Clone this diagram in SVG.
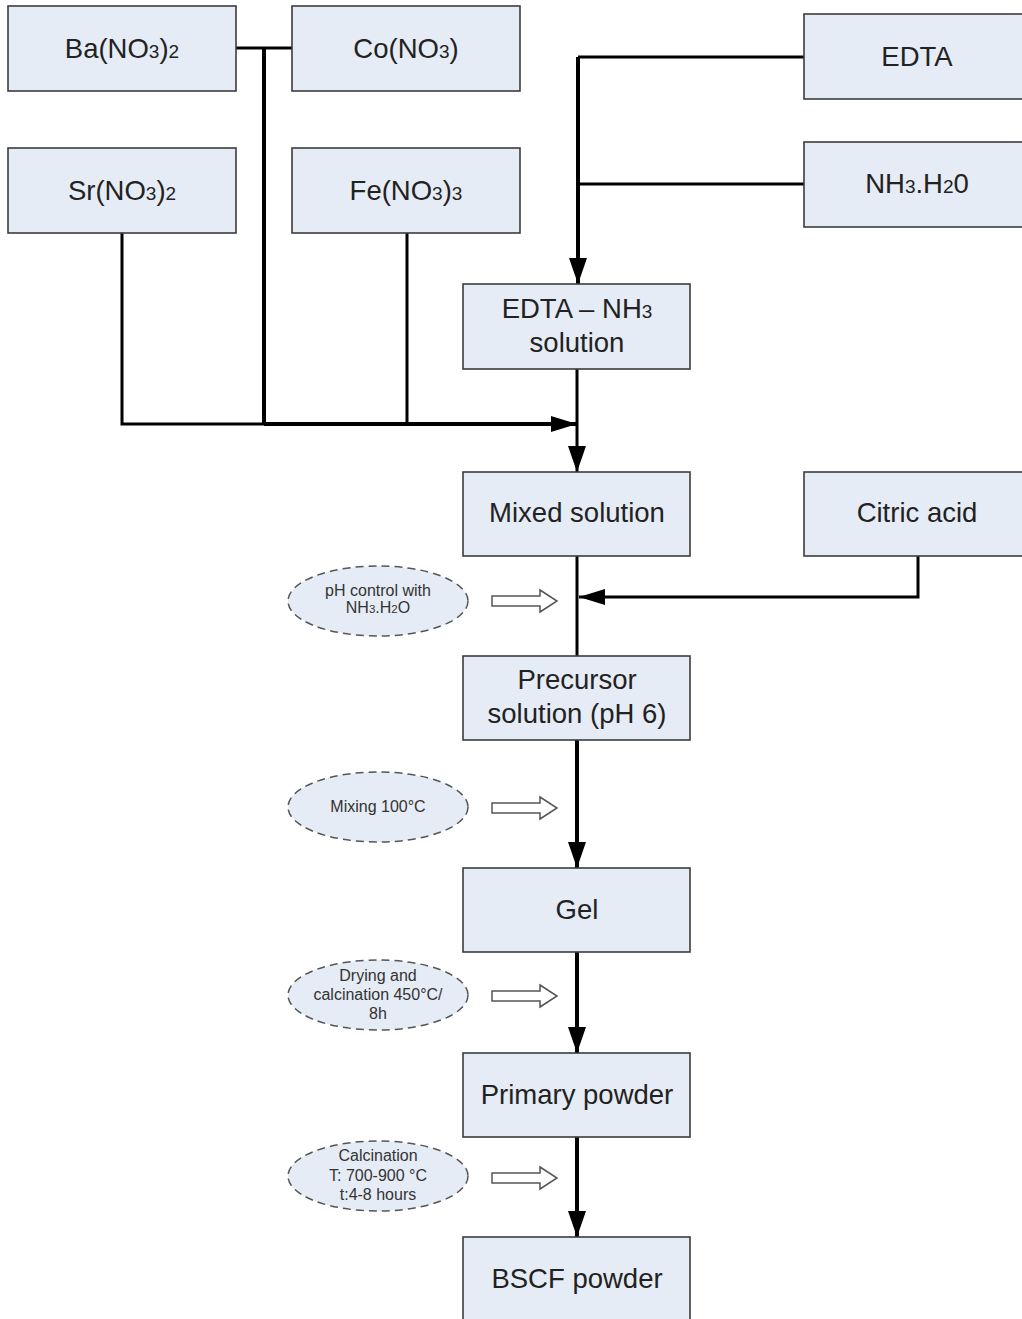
<svg xmlns="http://www.w3.org/2000/svg" width="1022" height="1319" viewBox="0 0 1022 1319">
<defs>
<marker id="ah" markerUnits="userSpaceOnUse" markerWidth="26" markerHeight="18" refX="26" refY="9" orient="auto">
<path d="M0,0 L26,9 L0,18 z" fill="#000"/>
</marker>
<marker id="ahs" markerUnits="userSpaceOnUse" markerWidth="26" markerHeight="16" refX="26" refY="8" orient="auto">
<path d="M0,0 L26,8 L0,16 z" fill="#000"/>
</marker>
<style>
.box{fill:#e6ecf5;stroke:#3c3c3c;stroke-width:1.6}
.t{font-family:"Liberation Sans",Arial,sans-serif;font-size:27.5px;fill:#222;text-anchor:middle}
.s{font-size:19px}
.ell{fill:#e6ecf5;stroke:#555;stroke-width:1.5;stroke-dasharray:8 5}
.et{font-family:"Liberation Sans",Arial,sans-serif;font-size:16px;fill:#333;text-anchor:middle}
.es{font-size:11.5px}
.c{fill:none;stroke:#000;stroke-width:3}
.ct{fill:none;stroke:#000;stroke-width:4}
.ha{fill:#fff;stroke:#555;stroke-width:1.5}
</style>
</defs>
<rect width="1022" height="1319" fill="#fff"/>

<g id="connectors">
<path class="c" d="M236,48 H292"/>
<path class="ct" d="M264,48 V424"/>
<path class="c" d="M122,233 V424 H264"/>
<path class="c" d="M407,233 V424"/>
<path class="ct" d="M264,424 H577" marker-end="url(#ahs)"/>
<path class="c" d="M804,57 H578"/>
<path class="ct" d="M578,57 V284" marker-end="url(#ah)"/>
<path class="c" d="M804,184 H578"/>
<path class="c" d="M577,369 V472" marker-end="url(#ah)"/>
<path class="c" d="M577,556 V656"/>
<path class="c" d="M918,556 V597 H579" marker-end="url(#ahs)"/>
<path class="ct" d="M577,740 V868" marker-end="url(#ah)"/>
<path class="ct" d="M577,952 V1053" marker-end="url(#ah)"/>
<path class="ct" d="M577,1137 V1237" marker-end="url(#ah)"/>
</g>

<g id="ba"><rect class="box" x="8" y="6" width="228" height="85"/><text class="t" x="122" y="58">Ba(NO<tspan class="s">3</tspan>)<tspan class="s">2</tspan></text></g>
<g id="co"><rect class="box" x="292" y="6" width="228" height="85"/><text class="t" x="406" y="58">Co(NO<tspan class="s">3</tspan>)</text></g>
<g id="sr"><rect class="box" x="8" y="148" width="228" height="85"/><text class="t" x="122" y="200">Sr(NO<tspan class="s">3</tspan>)<tspan class="s">2</tspan></text></g>
<g id="fe"><rect class="box" x="292" y="148" width="228" height="85"/><text class="t" x="406" y="200">Fe(NO<tspan class="s">3</tspan>)<tspan class="s">3</tspan></text></g>
<g id="edta"><rect class="box" x="804" y="14" width="230" height="85"/><text class="t" x="917" y="66">EDTA</text></g>
<g id="nh3"><rect class="box" x="804" y="142" width="230" height="85"/><text class="t" x="917" y="193">NH<tspan class="s">3</tspan>.H<tspan class="s">2</tspan>0</text></g>
<g id="edtanh3"><rect class="box" x="463" y="284" width="227" height="85"/><text class="t" x="577" y="318">EDTA – NH<tspan class="s">3</tspan></text><text class="t" x="577" y="352">solution</text></g>
<g id="mixed"><rect class="box" x="463" y="472" width="227" height="84"/><text class="t" x="577" y="522">Mixed solution</text></g>
<g id="citric"><rect class="box" x="804" y="472" width="230" height="84"/><text class="t" x="917" y="522">Citric acid</text></g>
<g id="precursor"><rect class="box" x="463" y="656" width="227" height="84"/><text class="t" x="577" y="689">Precursor</text><text class="t" x="577" y="723">solution (pH 6)</text></g>
<g id="gel"><rect class="box" x="463" y="868" width="227" height="84"/><text class="t" x="577" y="919">Gel</text></g>
<g id="primary"><rect class="box" x="463" y="1053" width="227" height="84"/><text class="t" x="577" y="1104">Primary powder</text></g>
<g id="bscf"><rect class="box" x="463" y="1237" width="227" height="90"/><text class="t" x="577" y="1288">BSCF powder</text></g>

<g id="ph"><ellipse class="ell" cx="378" cy="601" rx="90" ry="35"/><text class="et" x="378" y="596">pH control with</text><text class="et" x="378" y="613">NH<tspan class="es">3</tspan>.H<tspan class="es">2</tspan>O</text>
<path class="ha" d="M492,596 H540 V590 L557,601 L540,612 V606 H492 z"/></g>
<g id="mix"><ellipse class="ell" cx="378" cy="807" rx="90" ry="35"/><text class="et" x="378" y="812">Mixing 100°C</text>
<path class="ha" d="M492,803 H540 V797 L557,808 L540,819 V813 H492 z"/></g>
<g id="dry"><ellipse class="ell" cx="378" cy="995" rx="90" ry="35"/><text class="et" x="378" y="981">Drying and</text><text class="et" x="378" y="1000">calcination 450°C/</text><text class="et" x="378" y="1019">8h</text>
<path class="ha" d="M492,991 H540 V985 L557,996 L540,1007 V1001 H492 z"/></g>
<g id="calc"><ellipse class="ell" cx="378" cy="1176" rx="90" ry="35"/><text class="et" x="378" y="1161">Calcination</text><text class="et" x="378" y="1181">T: 700-900 °C</text><text class="et" x="378" y="1200">t:4-8 hours</text>
<path class="ha" d="M492,1173 H540 V1167 L557,1178 L540,1189 V1183 H492 z"/></g>
</svg>
